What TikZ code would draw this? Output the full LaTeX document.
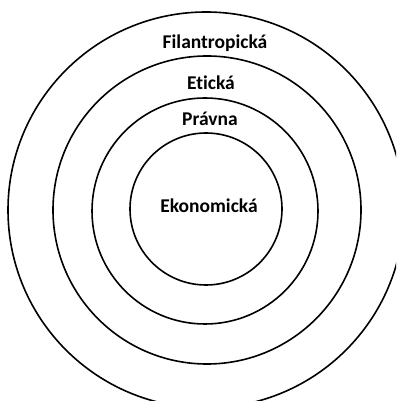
\documentclass[tikz,border=0pt]{standalone}
\usepackage{fontspec}
\setmainfont[Ligatures=NoCommon]{Carlito}
\usepackage{tikz}
\tikzset{
  ring/.style={draw=black, line width=1.6pt, circle, inner sep=0pt, minimum size=#1},
  tier/.style={font=\bfseries\fontsize{19.5}{22}\selectfont, inner sep=1pt}
}

\begin{document}
\begin{tikzpicture}[x=1pt, y=1pt]
  \clip (0,0) rectangle (396,401);
  \fill[white] (0,0) rectangle (396,401);

  % rings, outer to inner
  \node[ring=396pt] (filantrop) at (206,191) {};
  \node[ring=308pt] (etika)     at (207,191) {};
  \node[ring=226pt] (pravo)     at (205,190) {};
  \node[ring=152pt] (ekonom)    at (206,192) {};

  % labels
  \node[tier] (tfilantrop) at (215,358) {Filantropická};
  \node[tier] (tetika)     at (211,318) {Etická};
  \node[tier] (tpravo)     at (210,282) {Právna};
  \node[tier] (tekonom)    at (209,195) {Ekonomická};
\end{tikzpicture}
\end{document}
